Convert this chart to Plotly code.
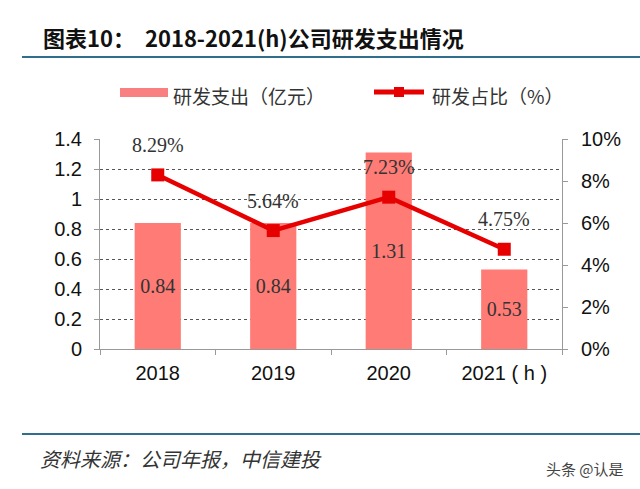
import plotly.graph_objects as go

categories = ["2018", "2019", "2020", "2021 ( h )"]
rd_spend = [0.84, 0.84, 1.31, 0.53]          # 亿元
rd_ratio = [0.0829, 0.0564, 0.0723, 0.0475]  # 占比

bar_color = "#ff7b76"
line_color = "#e60000"
serif = "Liberation Serif, DejaVu Serif, serif"
cjk = "Noto Sans CJK SC, sans-serif"
sans = "Liberation Sans, Arial, sans-serif"

fig = go.Figure()
fig.add_trace(go.Bar(
    x=categories, y=rd_spend, name="研发支出（亿元）",
    marker=dict(color=bar_color, line=dict(width=0)), width=0.4,
    text=[f"{v:.2f}" for v in rd_spend], textposition="inside",
    insidetextanchor="middle", constraintext="none", textangle=0,
    textfont=dict(family=serif, size=20, color="#333333"),
    showlegend=False,
))
fig.add_trace(go.Scatter(
    x=categories, y=rd_ratio, yaxis="y2", name="研发占比（%）",
    mode="lines+markers", line=dict(color=line_color, width=4.5),
    marker=dict(symbol="square", size=13, color=line_color),
    showlegend=False,
))

for i, v in enumerate(rd_ratio):
    fig.add_annotation(x=i, y=v, xref="x", yref="y2", text=f"{v*100:.2f}%", showarrow=False,
                       yshift=30, font=dict(family=serif, size=20, color="#333333"))

def px(x):
    return (x - 100) / 462

def py(y):
    return (349 - y) / 210

# title
fig.add_annotation(xref="paper", yref="paper", x=px(41), y=py(37), xanchor="left", yanchor="middle",
                   text="<b>图表10：  2018-2021(h)公司研发支出情况</b>", showarrow=False,
                   font=dict(family=cjk, size=22, color="#111111"))
# separator lines
for yy in (57, 434):
    fig.add_shape(type="line", xref="paper", yref="paper", x0=px(22), x1=px(640), y0=py(yy), y1=py(yy),
                  line=dict(color="#2f6f8c", width=2))
# source
fig.add_annotation(xref="paper", yref="paper", x=px(38), y=py(458), xanchor="left", yanchor="middle",
                   text="<i>资料来源：公司年报，中信建投</i>", showarrow=False,
                   font=dict(family=cjk, size=20, color="#333333"))
fig.add_annotation(xref="paper", yref="paper", x=px(626), y=py(468), xanchor="right", yanchor="middle",
                   text="头条 @认是", showarrow=False,
                   font=dict(family=cjk, size=15, color="#444444"))
# legend (manual)
fig.add_shape(type="rect", xref="paper", yref="paper", x0=px(120), x1=px(168), y0=py(97), y1=py(88),
              fillcolor="#f88080", line=dict(width=0))
fig.add_annotation(xref="paper", yref="paper", x=px(171), y=py(95), xanchor="left", yanchor="middle",
                   text="研发支出（亿元）", showarrow=False, font=dict(family=cjk, size=19, color="#333333"))
fig.add_shape(type="line", xref="paper", yref="paper", x0=px(374), x1=px(424), y0=py(92), y1=py(92),
              line=dict(color=line_color, width=5))
fig.add_shape(type="rect", xref="paper", yref="paper", x0=px(394), x1=px(404), y0=py(97), y1=py(87),
              fillcolor=line_color, line=dict(width=0))
fig.add_annotation(xref="paper", yref="paper", x=px(430), y=py(95), xanchor="left", yanchor="middle",
                   text="研发占比（%）", showarrow=False, font=dict(family=cjk, size=19, color="#333333"))

fig.update_layout(
    width=640, height=489,
    margin=dict(l=100, r=78, t=139, b=140, autoexpand=False),
    paper_bgcolor="white", plot_bgcolor="white",
    bargap=0.6,
    xaxis=dict(type="category", range=[-0.5, len(categories) - 0.5], showline=True,
               linecolor="#999999", linewidth=1,
               ticks="outside", tickson="boundaries", ticklen=5, tickcolor="#999999",
               ticklabelstandoff=6,
               tickfont=dict(family=sans, size=20, color="#111111"),
               showgrid=False),
    yaxis=dict(range=[0, 1.4], dtick=0.2, tickformat="~g", showline=True, linecolor="#999999",
               ticks="outside", ticklen=5, tickcolor="#999999", ticklabelstandoff=8,
               showgrid=True, gridcolor="#555555", griddash="dot", gridwidth=1,
               zeroline=False,
               tickfont=dict(family=sans, size=20, color="#111111")),
    yaxis2=dict(range=[0, 0.10], dtick=0.02, tickformat=".0%", overlaying="y", side="right",
                showline=True, linecolor="#999999", ticks="outside", ticklen=5, tickcolor="#999999",
                ticklabelstandoff=9, showgrid=False, zeroline=False,
                tickfont=dict(family=sans, size=20, color="#111111")),
)

fig.write_html("out.html", config={"displayModeBar": False},
               post_script="document.body.style.margin='0';")
